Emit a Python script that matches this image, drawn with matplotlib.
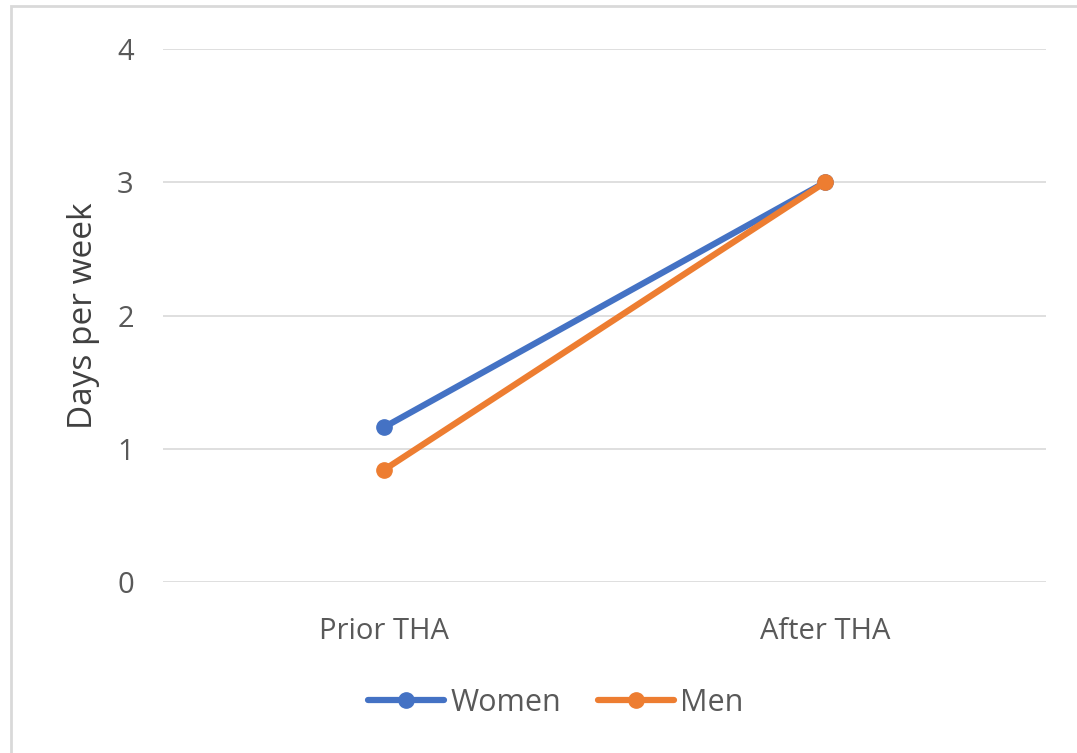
import matplotlib.pyplot as plt
from matplotlib.patches import Rectangle

plt.rcParams['font.family'] = ['Open Sans', 'DejaVu Sans']

categories = ["Prior THA", "After THA"]
women = [1.16, 3.0]
men = [0.84, 3.0]
yticks = [0, 1, 2, 3, 4]

fig = plt.figure(figsize=(10.77, 7.53), dpi=100)
ax = fig.add_axes([0.1513, 0.2271, 0.8199, 0.7078])

x = list(range(len(categories)))
ax.plot(x, women, color='#4472C4', lw=4.5, marker='o', ms=11, label='Women',
        solid_capstyle='round', zorder=3)
ax.plot(x, men, color='#ED7D31', lw=4.5, marker='o', ms=11, label='Men',
        solid_capstyle='round', zorder=4)

ax.set_xlim(-0.5, 1.5)
ax.set_ylim(0, 4)
ax.set_yticks(yticks)
ax.set_xticks(x)
ax.set_xticklabels(categories)
ax.tick_params(length=0, labelsize=21, labelcolor='#595959')
ax.tick_params(axis='y', pad=21)
ax.tick_params(axis='x', pad=25)
ax.grid(axis='y', color='#D9D9D9', lw=1.2)
ax.set_axisbelow(True)
for s in ax.spines.values():
    s.set_visible(False)
ax.set_ylabel('Days per week', fontsize=24, color='#404040', labelpad=12)

leg = ax.legend(loc='center', bbox_to_anchor=(0.4450, -0.2270), ncol=2, frameon=False,
                fontsize=22, handlelength=2.5, columnspacing=1.2, handletextpad=0.2,
                borderaxespad=0, borderpad=0)
for t in leg.get_texts():
    t.set_color('#595959')

# outer chart border
fig.patches.append(Rectangle((11 / 1077, -0.05), 1.1, 1 - 6 / 753 + 0.05,
                             transform=fig.transFigure, fill=False,
                             edgecolor='#D9D9D9', lw=2))

fig.savefig('out.png', dpi=100)
